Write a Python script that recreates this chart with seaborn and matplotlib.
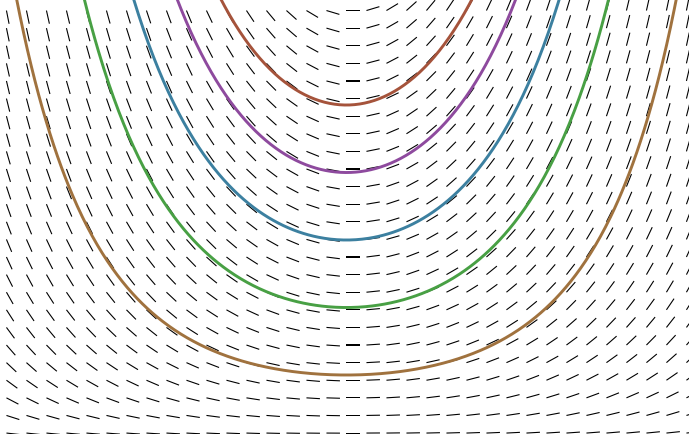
import numpy as np
import pandas as pd
import matplotlib
matplotlib.use("Agg")
import matplotlib.pyplot as plt
import seaborn as sns

# ODE: dy/dx = x * y ; solutions y = C * exp(x^2 / 2)
grid_x = np.linspace(-2.0, 2.0, 35)
grid_y = np.linspace(0.14, 6.40, 25)
curve_C = [1, 2, 3, 4, 5]
curve_colors = ["#a0723e", "#48a044", "#3c80a0", "#8e4a9e", "#a5533b"]

XLIM = (-2.038, 2.015)
YLIM = (0.126, 6.556)

sns.set_style("white")
fig = plt.figure(figsize=(6.89, 4.34), dpi=100)
ax = fig.add_axes([0, 0, 1, 1])
ax.set_xlim(*XLIM)
ax.set_ylim(*YLIM)
ax.axis("off")

# slope field
X, Y = np.meshgrid(grid_x, grid_y)
S = X * Y
fig.canvas.draw()
p0 = ax.transData.transform((0, 0))
p1 = ax.transData.transform((1, 1))
k = (p1[1] - p0[1]) / (p1[0] - p0[0])
n = np.sqrt(1 + (S * k) ** 2)
U = 1 / n
V = S * k / n
ax.quiver(X, Y, U, V, angles="uv", scale_units="inches", scale=1 / 0.135,
          pivot="tail", color="black", width=0.0016,
          headwidth=1, headlength=0, headaxislength=0, zorder=1)

# solution curves
xs = np.linspace(-2.2, 2.2, 600)
rows = []
for c in curve_C:
    for xv in xs:
        rows.append({"x": xv, "y": c * np.exp(xv ** 2 / 2), "C": c})
df = pd.DataFrame(rows)
sns.lineplot(data=df, x="x", y="y", hue="C", palette=curve_colors,
             linewidth=2.1, legend=False, ax=ax, zorder=2, sort=False)
ax.set_xlim(*XLIM)
ax.set_ylim(*YLIM)
ax.axis("off")

fig.savefig("out.png", dpi=100)
